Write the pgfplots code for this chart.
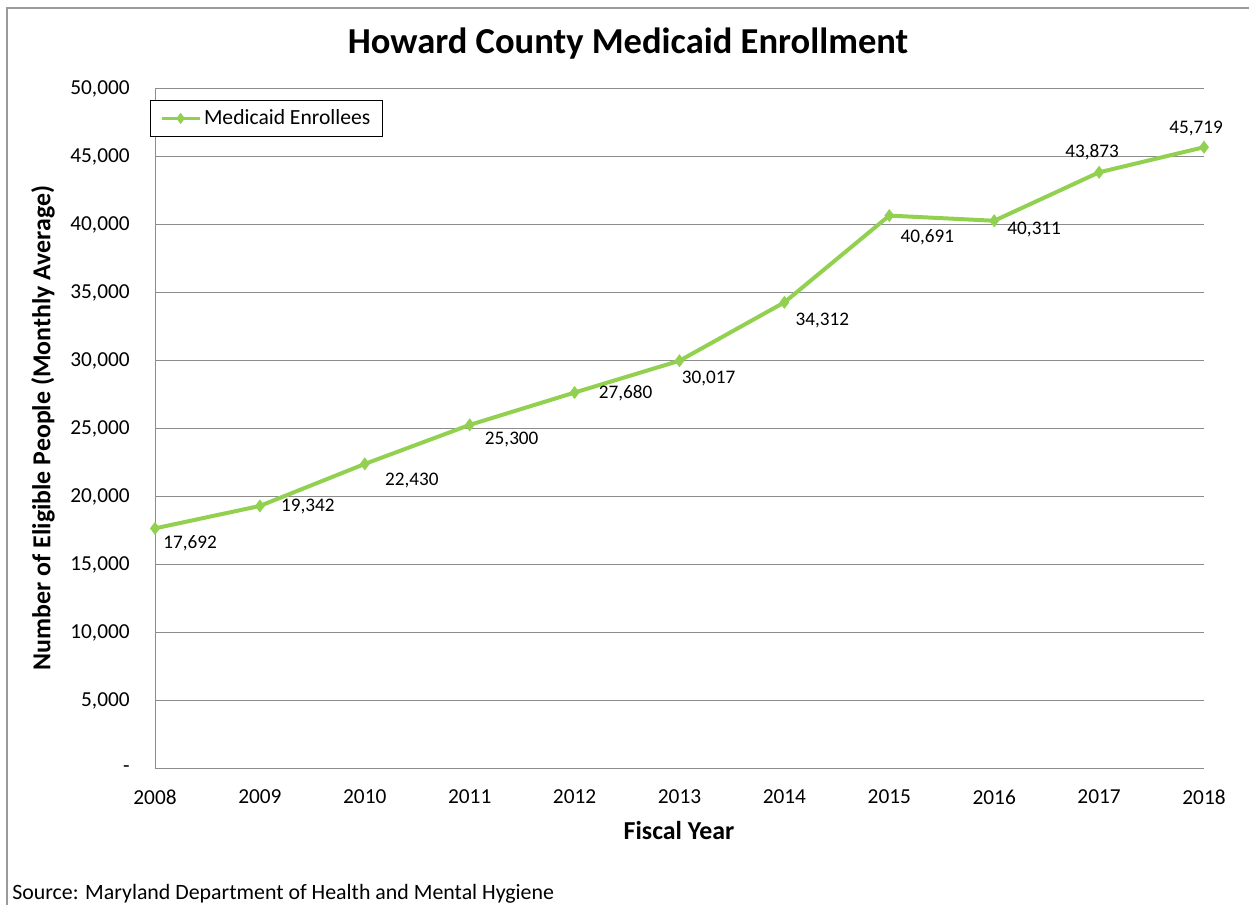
\documentclass[border=0pt]{standalone}
\usepackage{fontspec}
\setmainfont{Carlito}
\usepackage{pgfplots}
\usepackage{pgfplotstable}
\pgfplotsset{compat=1.18}
\definecolor{linegreen}{HTML}{92D050}
\definecolor{gridgray}{HTML}{8C8C8C}
\definecolor{framegray}{HTML}{9A9A9A}

\pgfplotstableread{
year value dx dy
2008 17692 35 -15
2009 19342 48 -1
2010 22430 47 -17
2011 25300 42 -15
2012 27680 51 -1
2013 30017 29 -18
2014 34312 38 -18
2015 40691 38 -22
2016 40311 40 -9
2017 43873 -7 20
2018 45719 -8 19
}\datatable

\begin{document}
\begin{tikzpicture}
\begin{axis}[
  scale only axis,
  width=786.75pt, height=510pt,
  xmin=2008, xmax=2018, ymin=0, ymax=50000,
  scaled y ticks=false, scaled x ticks=false,
  xtick={2008,2009,2010,2011,2012,2013,2014,2015,2016,2017,2018},
  xticklabels={2008,2009,2010,2011,2012,2013,2014,2015,2016,2017,2018},
  ytick={0,5000,10000,15000,20000,25000,30000,35000,40000,45000,50000},
  yticklabels={-,{5,000},{10,000},{15,000},{20,000},{25,000},{30,000},{35,000},{40,000},{45,000},{50,000}},
  major tick length=0pt,
  axis x line=bottom, axis y line=left,
  axis line style={-, draw=gridgray, line width=0.75pt},
  ymajorgrids,
  grid style={draw=gridgray, line width=0.75pt},
  clip=false,
  tick label style={font=\fontsize{16}{19}\selectfont, text=black},
  yticklabel style={anchor=east, inner sep=0pt, xshift=-18.75pt},
  xticklabel style={anchor=north, inner sep=0pt, yshift=-15.5pt},
  legend style={at={(rel axis cs:-0.0048,0.9838)}, anchor=north west,
    draw=black, line width=0.9pt, fill=white,
    font=\fontsize{16.2}{19}\selectfont, inner xsep=7pt, inner ysep=5pt,
    row sep=0pt},
  legend cell align=left,
  legend image code/.code={%
    \draw[#1, line width=2.6pt, mark=none] (0pt,0pt) -- (28.5pt,0pt);
    \draw[#1, mark=diamond*, mark size=3.8pt, only marks] plot coordinates {(14.25pt,0pt)};
  },
]
\addplot[
  color=linegreen, line width=3pt,
  mark=diamond*, mark size=4.5pt, mark options={fill=linegreen, draw=linegreen, line width=0.5pt},
  point meta=explicit,
  visualization depends on={\thisrow{dx} \as \dx},
  visualization depends on={\thisrow{dy} \as \dy},
  nodes near coords,
  nodes near coords style={anchor=center, inner sep=0pt, text=black,
    font=\fontsize{14.4}{17}\selectfont,
    xshift=\dx*0.75pt, yshift=\dy*0.75pt,
    /pgf/number format/.cd, fixed, precision=0, 1000 sep={,}, assume math mode=true},
] table[x=year, y=value, meta=value] {\datatable};
\addlegendentry{Medicaid Enrollees}

\node[font=\bfseries\fontsize{27.4}{32}\selectfont] at (rel axis cs:0.4509,1.0662) {Howard County Medicaid Enrollment};
\node[font=\bfseries\fontsize{19.4}{23}\selectfont] at (rel axis cs:0.4995,-0.0912) {Fiscal Year};
\node[font=\bfseries\fontsize{19.4}{23}\selectfont, rotate=90] at (rel axis cs:-0.1068,0.5015) {Number of Eligible People (Monthly Average)};
\node[anchor=west, inner sep=0pt, font=\fontsize{16.4}{19}\selectfont] at (rel axis cs:-0.13632,-0.1838) {Source: Maryland Department of Health and Mental Hygiene};
\draw[framegray, line width=1.2pt] (rel axis cs:-0.14109,-0.25) |- (rel axis cs:1.1,1.11912);
\coordinate (bl) at (rel axis cs:-0.14776,-0.2);
\coordinate (tr) at (rel axis cs:1.04290,1.130882);
\end{axis}
\pgfresetboundingbox
\useasboundingbox (bl) rectangle (tr);
\end{tikzpicture}
\end{document}
